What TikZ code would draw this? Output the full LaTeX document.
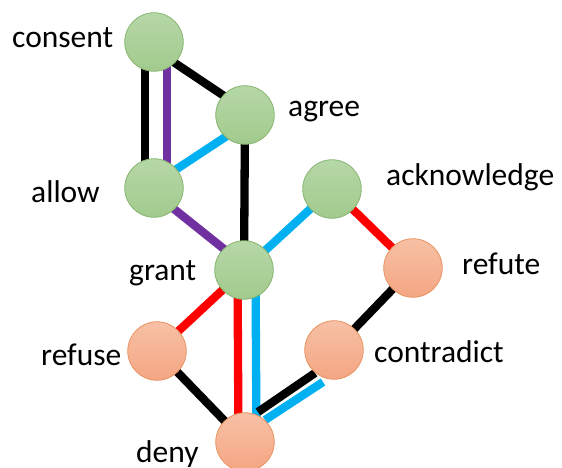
\documentclass[tikz,border=0pt]{standalone}
\usepackage{fontspec}
\setmainfont{Carlito}
\usetikzlibrary{backgrounds}

\definecolor{greenTop}{HTML}{B6D7A7}
\definecolor{greenBot}{HTML}{A2CA8D}
\definecolor{greenEdge}{HTML}{86B56F}
\definecolor{orangeTop}{HTML}{F7C0A5}
\definecolor{orangeBot}{HTML}{F4A683}
\definecolor{orangeEdge}{HTML}{E8925F}
\definecolor{linkPurple}{HTML}{7030A0}
\definecolor{linkBlue}{HTML}{00B0F0}
\definecolor{linkRed}{HTML}{FF0000}

\begin{document}
\begin{tikzpicture}[x=1pt,y=-1pt,
  wordcircle/.style={circle, minimum size=58.5pt, inner sep=0pt, line width=0.8pt},
  greenword/.style={wordcircle, draw=greenEdge, top color=greenTop, bottom color=greenBot},
  orangeword/.style={wordcircle, draw=orangeEdge, top color=orangeTop, bottom color=orangeBot},
  wordlabel/.style={anchor=base west, inner sep=0pt, font=\fontsize{31.5}{37}\selectfont},
  link/.style={line width=8.3pt}]

\useasboundingbox (0,0) rectangle (562,468);

% word circles
\node[greenword] (consent) at (154,42)  {};
\node[greenword] (agree)   at (245,115) {};
\node[greenword] (allow)   at (154,188) {};
\node[greenword] (grant)   at (244,270) {};
\node[greenword] (ack)     at (332,189) {};
\node[orangeword] (refute)  at (413,268) {};
\node[orangeword] (contra)  at (334,350) {};
\node[orangeword] (refuse)  at (157,351) {};
\node[orangeword] (deny)    at (245,442) {};

% labels
\node[wordlabel] (tconsent) at (12,48)   {consent};
\node[wordlabel] (tagree)   at (288,117) {agree};
\node[wordlabel] (tallow)   at (31,202)  {allow};
\node[wordlabel] (tgrant)   at (129,280) {grant};
\node[wordlabel] (tack)     at (386,185) {acknowledge};
\node[wordlabel] (trefute)  at (462,274) {refute};
\node[wordlabel] (tcontra)  at (374,362) {contradict};
\node[wordlabel] (trefuse)  at (41,365)  {refuse};
\node[wordlabel] (tdeny)    at (136,462) {deny};

% connectors, behind the circles
\begin{scope}[on background layer]
  \draw[link] ([shift={(-9,0)}]consent.center) -- ([shift={(-9,0)}]allow.center);
  \draw[link, linkPurple] ([shift={(13,0)}]consent.center) -- ([shift={(13,0)}]allow.center);
  \draw[link] ([shift={(0,7)}]consent.center) -- ([shift={(0,-5)}]agree.center);
  \draw[link, linkBlue] ([shift={(0,-4)}]allow.center) -- ([shift={(0,9)}]agree.center);
  \draw[link] (agree.center) -- (grant.center);
  \draw[link, linkPurple] ([shift={(0,5)}]allow.center) -- ([shift={(0,-5)}]grant.center);
  \draw[link, linkBlue] (grant.center) -- (ack.center);
  \draw[link, linkRed] (ack.center) -- (refute.center);
  \draw[link] (refute.center) -- (contra.center);
  \draw[link, linkRed] (grant.center) -- (refuse.center);
  \draw[link] (refuse.center) -- (deny.center);
  \draw[link, linkRed] ([shift={(-6.5,0)}]grant.center) -- ([shift={(-6.5,0)}]deny.center);
  \draw[link, linkBlue] ([shift={(11.5,0)}]grant.center) -- ([shift={(11.5,0)}]deny.center);
  \draw[link] ([shift={(13,-30)}]deny.center) -- ([shift={(-19,23)}]contra.center);
  \draw[link, linkBlue] ([shift={(20,-22)}]deny.center) -- ([shift={(-11,32)}]contra.center);
\end{scope}
\end{tikzpicture}
\end{document}
